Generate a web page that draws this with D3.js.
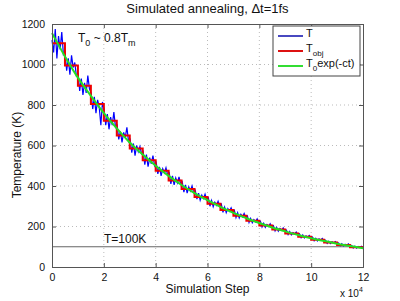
<!DOCTYPE html>
<html>
<head>
<meta charset="utf-8">
<script src="https://cdn.jsdelivr.net/npm/d3@7"></script>
<style>
  body { margin: 0; background: #fff; }
  text { font-family: "Liberation Sans", Arial, sans-serif; fill: #111; }
</style>
</head>
<body>
<div id="chart"></div>
<script>
// values (x in units of 1e4 steps)
const stepWidth = 0.5;
const redSteps = [1105, 995, 895, 805, 722, 650, 585, 527, 475, 427, 385, 346,
  312, 281, 253, 228, 205, 185, 166, 150, 135, 121, 109, 98];
const greenX = [0, 0.5, 1, 1.5, 2, 2.5, 3, 3.5, 4, 4.5, 5, 5.5, 6, 6.5, 7, 7.5,
  8, 8.5, 9, 9.5, 10, 10.5, 11, 11.5, 12];
const greenY = [1155, 1040, 935, 845, 760, 685, 615, 555, 500, 450, 405, 365, 330,
  297, 267, 241, 217, 195, 176, 158, 142, 128, 115, 104, 93];
// 8 readings per step
const blueY = [
  1120, 1060, 1175, 1030, 1140, 1075, 1160, 1050,
  1060, 970, 1030, 950, 1045, 985, 1010, 940,
  960, 870, 930, 850, 910, 860, 945, 880,
  860, 780, 840, 760, 825, 790, 700, 815,
  780, 700, 755, 680, 740, 700, 765, 690,
  700, 630, 670, 615, 665, 640, 690, 620,
  630, 565, 610, 550, 600, 570, 595, 560,
  570, 505, 555, 495, 540, 510, 550, 500,
  515, 460, 495, 450, 485, 465, 490, 455,
  465, 410, 450, 405, 440, 415, 445, 410,
  420, 370, 405, 365, 395, 375, 400, 368,
  378, 335, 365, 330, 355, 338, 360, 332,
  342, 300, 328, 298, 320, 305, 325, 300,
  310, 270, 296, 268, 288, 275, 292, 270,
  280, 244, 268, 242, 260, 248, 264, 244,
  252, 220, 240, 218, 234, 223, 238, 220,
  226, 198, 216, 196, 210, 200, 214, 198,
  204, 178, 195, 177, 190, 181, 193, 178,
  182, 160, 175, 159, 170, 162, 173, 160,
  164, 145, 158, 144, 154, 147, 156, 145,
  148, 130, 142, 129, 139, 132, 141, 130,
  132, 117, 127, 116, 125, 119, 126, 117,
  119, 105, 115, 104, 112, 107, 114, 105,
  107, 94, 103, 93, 101, 96, 102, 94
];
const xTicks = [0, 2, 4, 6, 8, 10, 12];
const yTicks = [0, 200, 400, 600, 800, 1000, 1200];
const targetT = 100;

const w = 400, h = 301;
const margin = {top: 24, right: 37, bottom: 34, left: 52};
const innerW = w - margin.left - margin.right;
const innerH = h - margin.top - margin.bottom;

const x = d3.scaleLinear().domain([0, 12]).range([0, innerW]);
const y = d3.scaleLinear().domain([0, 1200]).range([innerH, 0]);

const svg = d3.select("#chart").append("svg")
    .attr("width", w)
    .attr("height", h);

const g = svg.append("g")
    .attr("transform", `translate(${margin.left},${margin.top})`);

// grid
g.append("g").selectAll("line.gx")
    .data(xTicks.slice(1, -1))
  .enter().append("line")
    .attr("x1", d => x(d)).attr("x2", d => x(d))
    .attr("y1", 0).attr("y2", innerH)
    .attr("stroke", "#bbb").attr("stroke-dasharray", "1,3");
g.append("g").selectAll("line.gy")
    .data(yTicks.slice(1, -1))
  .enter().append("line")
    .attr("x1", 0).attr("x2", innerW)
    .attr("y1", d => y(d)).attr("y2", d => y(d))
    .attr("stroke", "#bbb").attr("stroke-dasharray", "1,3");

// T = 100K line
g.append("line")
    .attr("x1", 0).attr("x2", innerW)
    .attr("y1", y(targetT)).attr("y2", y(targetT))
    .attr("stroke", "#666").attr("stroke-width", 1);

const n = blueY.length;
const blueData = blueY.map((v, i) => [i * 12 / (n - 1), v]);
const redData = [];
redSteps.forEach((v, i) => {
  redData.push([i * stepWidth, v]);
  redData.push([(i + 1) * stepWidth, v]);
});
const greenData = greenX.map((v, i) => [v, greenY[i]]);

const line = d3.line().x(d => x(d[0])).y(d => y(d[1]));

g.append("path").datum(blueData)
    .attr("d", line).attr("fill", "none")
    .attr("stroke", "#0000ff").attr("stroke-width", 1.2);
g.append("path").datum(redData)
    .attr("d", line).attr("fill", "none")
    .attr("stroke", "#ee0000").attr("stroke-width", 2);
g.append("path").datum(greenData)
    .attr("d", line.curve(d3.curveMonotoneX)).attr("fill", "none")
    .attr("stroke", "#22e022").attr("stroke-width", 2);

// axes (ticks pointing inward, box around)
const xAxis = d3.axisBottom(x).tickValues(xTicks).tickSize(-4).tickPadding(7).tickFormat(d3.format("d"));
const yAxis = d3.axisLeft(y).tickValues(yTicks).tickSize(-4).tickPadding(7).tickFormat(d3.format("d"));
const xTop = d3.axisTop(x).tickValues(xTicks).tickSize(-4).tickFormat("");
const yRight = d3.axisRight(y).tickValues(yTicks).tickSize(-4).tickFormat("");

g.append("g").attr("transform", `translate(0,${innerH})`).call(xAxis);
g.append("g").call(yAxis);
g.append("g").call(xTop);
g.append("g").attr("transform", `translate(${innerW},0)`).call(yRight);
g.selectAll(".domain, .tick line").attr("stroke", "#555");
g.selectAll(".tick text").attr("font-size", 10.5).attr("fill", "#111")
  .style("font-family", "Liberation Sans, Arial, sans-serif");

// labels
svg.append("text")
    .attr("x", margin.left + innerW / 2).attr("y", 13)
    .attr("text-anchor", "middle").attr("font-size", 13)
    .text("Simulated annealing, \u0394t=1fs");
svg.append("text")
    .attr("x", margin.left + innerW / 2).attr("y", 293)
    .attr("text-anchor", "middle").attr("font-size", 12)
    .text("Simulation Step");
svg.append("text")
    .attr("transform", "translate(21,155) rotate(-90)")
    .attr("text-anchor", "middle").attr("font-size", 12)
    .text("Temperature (K)");
const exp = svg.append("text")
    .attr("x", 340).attr("y", 297).attr("font-size", 10);
exp.append("tspan").text("x 10");
exp.append("tspan").attr("dy", -5).attr("font-size", 7).text("4");

// annotations
const t0 = g.append("text").attr("x", 26).attr("y", 18).attr("font-size", 12);
t0.append("tspan").text("T");
t0.append("tspan").attr("dy", 4).attr("font-size", 9).text("0");
t0.append("tspan").attr("dy", -4).text(" ~ 0.8T");
t0.append("tspan").attr("dy", 4).attr("font-size", 9).text("m");
g.append("text").attr("x", 52).attr("y", y(targetT) - 4)
    .attr("font-size", 12).text("T=100K");

// legend
const lg = g.append("g").attr("transform", "translate(221,2)");
lg.append("rect").attr("width", 87).attr("height", 50)
    .attr("fill", "#fff").attr("stroke", "#444");
const legendItems = [
  {color: "#4848c0", main: "T", sub: "", rest: ""},
  {color: "#dd1111", main: "T", sub: "obj", rest: ""},
  {color: "#33dd33", main: "T", sub: "0", rest: "exp(-ct)"}
];
legendItems.forEach((d, i) => {
  const yy = 10 + i * 15;
  lg.append("line").attr("x1", 5).attr("x2", 30).attr("y1", yy).attr("y2", yy)
      .attr("stroke", d.color).attr("stroke-width", 2);
  const t = lg.append("text").attr("x", 33).attr("y", yy + 1).attr("font-size", 11);
  t.append("tspan").text(d.main);
  if (d.sub) t.append("tspan").attr("dy", 4).attr("font-size", 8).text(d.sub);
  if (d.rest) t.append("tspan").attr("dy", -4).text(d.rest);
});
</script>
</body>
</html>
